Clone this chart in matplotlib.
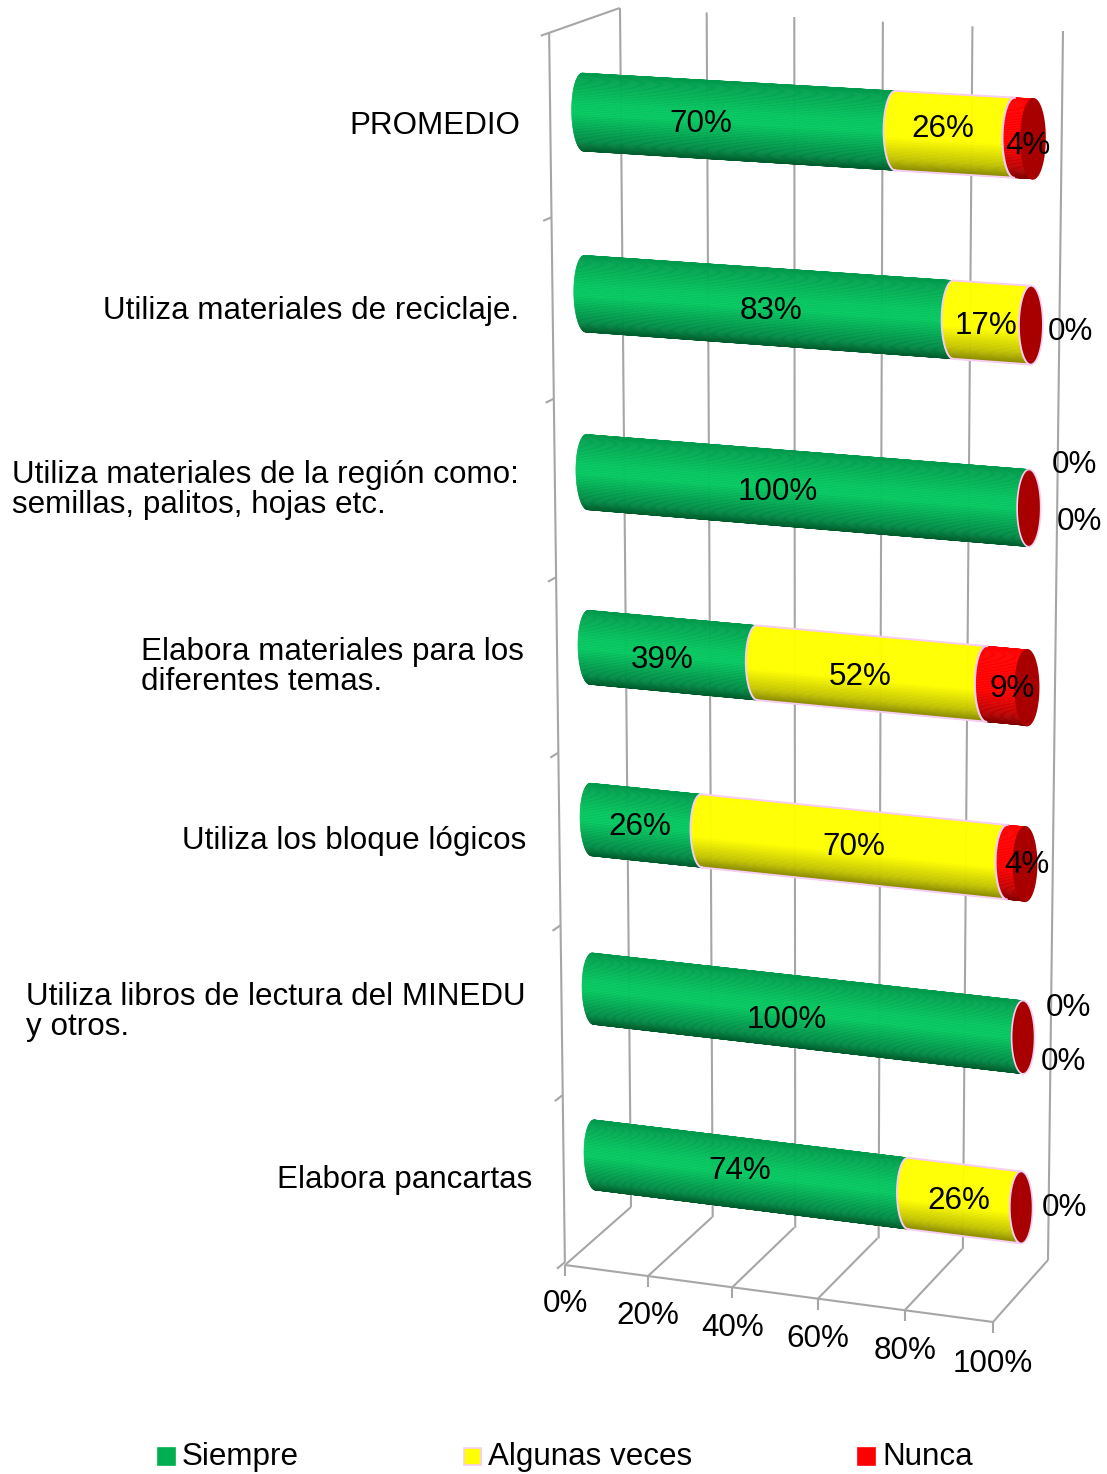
import numpy as np
import matplotlib
matplotlib.use("Agg")
import matplotlib.pyplot as plt
from matplotlib.collections import PolyCollection
from matplotlib.colors import LinearSegmentedColormap
from matplotlib.patches import Rectangle, Polygon
from matplotlib.transforms import Transform

plt.rcParams['font.family'] = ['Liberation Sans', 'DejaVu Sans']

# ---------- data (bottom to top) ----------
categories = ["Elabora pancartas",
              "Utiliza libros de lectura del MINEDU\ny otros.",
              "Utiliza los bloque lógicos",
              "Elabora materiales para los\ndiferentes temas.",
              "Utiliza materiales de la región como:\nsemillas, palitos, hojas etc.",
              "Utiliza materiales de reciclaje.",
              "PROMEDIO"]
siempre = [74, 100, 26, 39, 100, 83, 70]
algunas = [26, 0, 70, 52, 0, 17, 26]
nunca = [0, 0, 4, 9, 0, 0, 4]
series_names = ["Siempre", "Algunas veces", "Nunca"]
x_ticks = [0, 20, 40, 60, 80, 100]

# ---------- layout ----------
W, H = 1107, 1474
FS = 22.6
GRAY = '#A6A6A6'
PINK = '#F7CDF3'
CAP = '#A80000'
BAND = 0.213
BULGE = 2.6

label_pos = [
    [(740, 1171), (959, 1201), (1064, 1208)],
    [(787, 1020), (1068, 1008), (1063, 1062)],
    [(640, 827), (854, 847), (1027, 865)],
    [(662, 660), (860, 677), (1012, 689)],
    [(778, 492), (1074, 465), (1079, 522)],
    [(771, 311), (986, 326), (1070, 332)],
    [(701, 124), (943, 129), (1028, 146)],
]
cat_pos = [(277, 1180), (26, 1012), (182, 841), (141, 667), (12, 490), (103, 311), (349, 126)]
tick_label_y = [1304, 1316, 1328, 1339, 1351, 1364]
legend_x = [158, 464, 858]


def fit_h(src, dst):
    rows = []
    for (u, v), (x, y) in zip(src, dst):
        rows.append([u, v, 1, 0, 0, 0, -x * u, -x * v, -x])
        rows.append([0, 0, 0, u, v, 1, -y * u, -y * v, -y])
    return np.linalg.svd(np.array(rows, float))[2][-1].reshape(3, 3)


class Plane(Transform):
    input_dims = output_dims = 2
    is_affine = False
    has_inverse = False

    def __init__(self, src, dst):
        super().__init__()
        self.m = fit_h(src, dst)

    def transform_non_affine(self, values):
        p = np.c_[np.asarray(values, float), np.ones(len(values))] @ self.m.T
        return p[:, :2] / p[:, 2:]


bar_src, bar_dst = [], []
left_c = [(595, 1155), (593, 989), (591, 820), (589, 647), (587, 472), (585, 293), (583, 113)]
right_c = [(1021, 1207), (1023, 1038), (1025, 864), (1027, 688), (1029, 508), (1031, 325), (1033, 139)]
for i in range(7):
    bar_src += [(0, i + .5), (100, i + .5)]
    bar_dst += [left_c[i], right_c[i]]
bar_plane = Plane(bar_src, bar_dst)
back_plane = Plane([(0, 0), (100, 0), (100, 7), (0, 7)], [(631, 1207), (1048, 1260), (1063, 31), (620, 8)])
floor_plane = Plane([(0, 0), (100, 0), (100, 1), (0, 1)], [(565, 1265), (993, 1322), (1048, 1260), (631, 1207)])
front_ticks = [1262, 1095, 926, 752, 577, 399, 217, 33]
wall_src = [(0, k) for k in range(8)] + [(1, 0), (1, 7)]
wall_dst = [(565 - (1262 - y) * 16 / 1229, y) for y in front_ticks] + [(631, 1207), (620, 8)]
wall_plane = Plane(wall_src, wall_dst)

fig = plt.figure(figsize=(W / 100, H / 100), dpi=100)
ax = fig.add_axes([0, 0, 1, 1])
ax.set_xlim(0, W)
ax.set_ylim(H, 0)
ax.axis('off')


def T(plane):
    return plane + ax.transData


# ---------- frame ----------
kw = dict(color=GRAY, lw=1.5, solid_capstyle='butt', zorder=1)
for v in x_ticks:
    ax.plot([v, v], [0, 7], transform=T(back_plane), **kw)
    ax.plot([v, v], [0, 1], transform=T(floor_plane), **kw)
ax.plot([0, 100], [0, 0], transform=T(floor_plane), **kw)
ax.plot([0, 0], [0, 7], transform=T(wall_plane), **kw)
ax.plot([0, 1], [7, 7], transform=T(wall_plane), **kw)
ax.plot([-.12] * 2 + [np.nan], [0, 0, np.nan], alpha=0)
for k in range(8):
    ax.plot([-.115, 0], [k, k], transform=T(wall_plane), **kw)
for v in x_ticks:
    p = floor_plane.transform_non_affine(np.array([[v, 0]]))[0]
    ax.plot([p[0], p[0]], [p[1], p[1] + 11], **kw)

# ---------- bars ----------
cmaps = [
    LinearSegmentedColormap.from_list('g', [(0, '#005C2C'), (.13, '#008A45'), (.48, '#05C860'), (.62, '#05C45E'), (1, '#009A4C')]),
    LinearSegmentedColormap.from_list('y', [(0, '#858500'), (.15, '#C4C400'), (.42, '#FFFF00'), (1, '#FFFF00')]),
    LinearSegmentedColormap.from_list('r', [(0, '#800000'), (.15, '#C00000'), (.42, '#FF0000'), (1, '#FF0000')]),
]
S = np.sin(np.linspace(-np.pi / 2, np.pi / 2, 71))
ARC = BULGE * np.sqrt(np.clip(1 - S ** 2, 0, 1))

for i in range(7):
    c = i + .5
    start = 0
    vals = [siempre[i], algunas[i], nunca[i]]
    for j, val in enumerate(vals):
        if val == 0:
            continue
        end = start + val
        verts, cols = [], []
        for k in range(len(S) - 1):
            verts.append([(start - ARC[k], c + BAND * S[k]), (end - ARC[k], c + BAND * S[k]),
                          (end - ARC[k + 1], c + BAND * S[k + 1]), (start - ARC[k + 1], c + BAND * S[k + 1])])
            cols.append(cmaps[j]((S[k] + S[k + 1]) / 4 + .5))
        ax.add_collection(PolyCollection(verts, facecolors=cols, edgecolors=cols, linewidths=.4,
                                         transform=T(bar_plane), zorder=3 + j))
        if j == 1:
            vx = np.r_[start - ARC, end - ARC[::-1], start - ARC[0]]
            vy = np.r_[c + BAND * S, c + BAND * S[::-1], c + BAND * S[0]]
            ax.plot(vx, vy, color=PINK, lw=1.4, transform=T(bar_plane), zorder=4.5)
        if j == 2:
            ax.plot(start - ARC, c + BAND * S, color=PINK, lw=1.4, transform=T(bar_plane), zorder=5.5)
        start = end
    th = np.linspace(0, 2 * np.pi, 100)
    edge = PINK if nunca[i] == 0 else CAP
    ax.add_patch(Polygon(np.c_[100 + BULGE * np.cos(th), c + BAND * np.sin(th)], closed=True, fc=CAP, ec=edge,
                         lw=1.2, transform=T(bar_plane), zorder=6))

# ---------- texts ----------
for i in range(7):
    vals = [siempre[i], algunas[i], nunca[i]]
    for val, (x, y) in zip(vals, label_pos[i]):
        ax.text(x, y, f"{val}%", fontsize=FS, ha='center', va='center', color='k', zorder=8)
    (x, y) = cat_pos[i]
    ax.text(x, y, categories[i], fontsize=FS, ha='left', va='center', color='k', linespacing=1.0, zorder=8)
for v, y in zip(x_ticks, tick_label_y):
    x = floor_plane.transform_non_affine(np.array([[v, 0]]))[0, 0]
    ax.text(x, y, f"{v}%", fontsize=FS, ha='center', va='center', color='k')

colors = ['#00B050', '#FFFF00', '#FF0000']
edges = ['#00B050', PINK, '#FF0000']
for name, x, col, ec in zip(series_names, legend_x, colors, edges):
    ax.add_patch(Rectangle((x, 1448), 17, 17, fc=col, ec=ec, lw=1.2))
    ax.text(x + 24, 1457, name, fontsize=FS, ha='left', va='center', color='k')

fig.savefig('out.png', dpi=100)
